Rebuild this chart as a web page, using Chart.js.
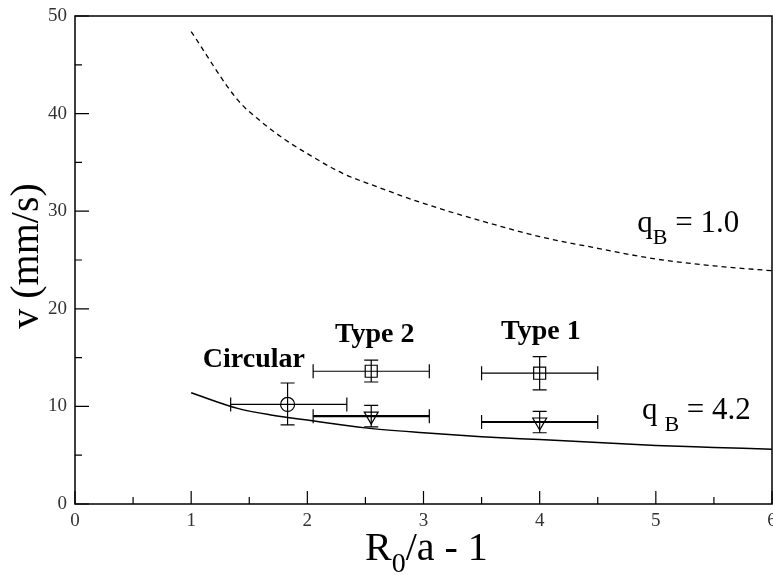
<!DOCTYPE html>
<html>
<head>
<meta charset="utf-8">
<script src="https://cdn.jsdelivr.net/npm/chart.js@4.4.1/dist/chart.umd.min.js"></script>
<style>
  html, body { margin: 0; background: #fff; overflow: hidden; }
  #wrap { width: 773px; height: 575px; }
  canvas { display: block; }
</style>
</head>
<body>
<div id="wrap"><canvas id="speedChart"></canvas></div>
<script>
// curves
const curveX1 = [1.0, 1.4, 1.6, 1.8, 2.0, 2.3, 2.6, 3.0, 3.5, 4.0, 4.5, 5.0, 5.5, 6.0];
const curveY1 = [48.4, 41.4, 39.2, 37.4, 35.9, 33.9, 32.5, 30.8, 29.0, 27.4, 26.2, 25.1, 24.4, 23.9];
const curveX4 = [1.0, 1.4, 1.7, 2.0, 2.5, 3.0, 3.5, 4.0, 4.5, 5.0, 5.5, 6.0];
const curveY4 = [11.4, 9.8, 9.1, 8.6, 7.8, 7.3, 6.9, 6.6, 6.3, 6.0, 5.8, 5.6];

// measured points: [x, y, xLow, xHigh, yLow, yHigh]
const circularPts = [[1.83, 10.2, 1.34, 2.34, 8.1, 12.4]];
const squarePts = [[2.55, 13.6, 2.05, 3.05, 12.5, 14.75], [4.0, 13.4, 3.5, 4.5, 11.7, 15.1]];
const trianglePts = [[2.55, 9.0, 2.05, 3.05, 7.9, 10.1], [4.0, 8.4, 3.5, 4.5, 7.3, 9.5]];

const xTicks = [0, 1, 2, 3, 4, 5, 6];
const yTicks = [0, 10, 20, 30, 40, 50];

const serif = '"Liberation Serif", "DejaVu Serif", serif';

function toXY(xs, ys) {
    return xs.map((x, i) => ({ x: x, y: ys[i] }));
}
function toPts(rows) {
    return rows.map(r => ({ x: r[0], y: r[1], xl: r[2], xh: r[3], yl: r[4], yh: r[5] }));
}

const errorBars = {
    id: 'errorBars',
    afterDatasetsDraw(chart) {
        const ctx = chart.ctx;
        const xs = chart.scales.x, ys = chart.scales.y;
        chart.data.datasets.forEach(ds => {
            if (!ds.errBars) return;
            ctx.save();
            ctx.strokeStyle = '#000';
            ds.data.forEach(p => {
                const px = xs.getPixelForValue(p.x), py = ys.getPixelForValue(p.y);
                const x1 = xs.getPixelForValue(p.xl), x2 = xs.getPixelForValue(p.xh);
                const y1 = ys.getPixelForValue(p.yl), y2 = ys.getPixelForValue(p.yh);
                ctx.lineWidth = ds.hBarWidth;
                ctx.beginPath();
                ctx.moveTo(x1, py); ctx.lineTo(x2, py);
                ctx.stroke();
                ctx.lineWidth = 1.2;
                ctx.beginPath();
                ctx.moveTo(x1, py - 7); ctx.lineTo(x1, py + 7);
                ctx.moveTo(x2, py - 7); ctx.lineTo(x2, py + 7);
                ctx.moveTo(px, y1); ctx.lineTo(px, y2);
                ctx.moveTo(px - 7, y1); ctx.lineTo(px + 7, y1);
                ctx.moveTo(px - 7, y2); ctx.lineTo(px + 7, y2);
                ctx.stroke();
            });
            ctx.restore();
        });
    }
};

// frame, inward ticks, axis titles and notes
const frameAndText = {
    id: 'frameAndText',
    afterDraw(chart) {
        const ctx = chart.ctx;
        const a = chart.chartArea;
        const xs = chart.scales.x, ys = chart.scales.y;
        ctx.save();
        ctx.strokeStyle = '#000';
        ctx.lineWidth = 1.5;
        ctx.strokeRect(a.left, a.top, a.right - a.left, a.bottom - a.top);

        ctx.lineWidth = 1.2;
        ctx.beginPath();
        for (let v = 0; v <= 6; v += 0.5) {
            const px = xs.getPixelForValue(v);
            const len = Number.isInteger(v) ? 13 : 7;
            ctx.moveTo(px, a.bottom); ctx.lineTo(px, a.bottom - len);
        }
        for (let v = 0; v <= 50; v += 5) {
            const py = ys.getPixelForValue(v);
            const len = v % 10 === 0 ? 14 : 7;
            ctx.moveTo(a.left, py); ctx.lineTo(a.left + len, py);
        }
        ctx.stroke();

        ctx.fillStyle = '#000';
        // y title
        ctx.save();
        ctx.translate(27, 256);
        ctx.rotate(-Math.PI / 2);
        ctx.font = '40px ' + serif;
        ctx.textAlign = 'center';
        ctx.textBaseline = 'middle';
        ctx.fillText('v (mm/s)', 0, 0);
        ctx.restore();

        // x title with subscript
        ctx.textBaseline = 'alphabetic';
        ctx.textAlign = 'left';
        let x = 365;
        ctx.font = '40px ' + serif;
        ctx.fillText('R', x, 560);
        x += ctx.measureText('R').width;
        ctx.font = '28px ' + serif;
        ctx.fillText('0', x, 572);
        x += ctx.measureText('0').width;
        ctx.font = '40px ' + serif;
        ctx.fillText('/a - 1', x, 560);

        // curve notes
        function qLabel(px, py, gap, value) {
            let cx = px;
            ctx.font = '31px ' + serif;
            ctx.fillText('q', cx, py);
            cx += ctx.measureText('q').width + gap;
            ctx.font = '22px ' + serif;
            ctx.fillText('B', cx, py + 12);
            cx += ctx.measureText('B').width;
            ctx.font = '31px ' + serif;
            ctx.fillText(' = ' + value, cx, py);
        }
        qLabel(xs.getPixelForValue(4.84), ys.getPixelForValue(27.9), 0, '1.0');
        qLabel(xs.getPixelForValue(4.88), ys.getPixelForValue(8.7), 7, '4.2');

        ctx.font = 'bold 28px ' + serif;
        ctx.textAlign = 'center';
        ctx.fillText('Circular', xs.getPixelForValue(1.54), ys.getPixelForValue(14.0));
        ctx.fillText('Type 2', xs.getPixelForValue(2.58), ys.getPixelForValue(16.6));
        ctx.fillText('Type 1', xs.getPixelForValue(4.01), ys.getPixelForValue(16.9));
        ctx.restore();
    }
};

const ctx = document.getElementById('speedChart').getContext('2d');

const speedChart = new Chart(ctx, {
    type: 'scatter',
    data: {
        datasets: [
            {
                label: 'qB = 1.0',
                data: toXY(curveX1, curveY1),
                showLine: true,
                borderColor: '#000',
                borderWidth: 1.3,
                borderDash: [5, 4],
                pointRadius: 0,
                cubicInterpolationMode: 'monotone'
            },
            {
                label: 'qB = 4.2',
                data: toXY(curveX4, curveY4),
                showLine: true,
                borderColor: '#000',
                borderWidth: 1.5,
                pointRadius: 0,
                cubicInterpolationMode: 'monotone'
            },
            {
                label: 'Circular',
                data: toPts(circularPts),
                pointStyle: 'circle',
                pointRadius: 7,
                borderColor: '#000',
                borderWidth: 1.2,
                backgroundColor: 'rgba(0,0,0,0)',
                errBars: true,
                hBarWidth: 1.2
            },
            {
                label: 'Square',
                data: toPts(squarePts),
                pointStyle: 'rect',
                pointRadius: 8.5,
                borderColor: '#000',
                borderWidth: 1.2,
                backgroundColor: 'rgba(0,0,0,0)',
                errBars: true,
                hBarWidth: 1.2
            },
            {
                label: 'Triangle',
                data: toPts(trianglePts),
                pointStyle: 'triangle',
                pointRotation: 180,
                pointRadius: 8,
                borderColor: '#000',
                borderWidth: 1.2,
                backgroundColor: 'rgba(0,0,0,0)',
                errBars: true,
                hBarWidth: 2.2
            }
        ]
    },
    options: {
        responsive: true,
        maintainAspectRatio: false,
        animation: false,
        layout: { autoPadding: false, padding: { top: 16, right: 1, left: 0, bottom: 0 } },
        scales: {
            x: {
                type: 'linear',
                min: 0,
                max: 6,
                afterBuildTicks: scale => { scale.ticks = xTicks.map(v => ({ value: v })); },
                afterFit: scale => { scale.height = 71; scale.paddingLeft = 0; scale.paddingRight = 0; },
                grid: { display: false, drawTicks: false },
                border: { display: false },
                ticks: {
                    padding: 6,
                    color: '#333',
                    font: { family: serif, size: 19 },
                    maxRotation: 0
                }
            },
            y: {
                type: 'linear',
                min: 0,
                max: 50,
                afterBuildTicks: scale => { scale.ticks = yTicks.map(v => ({ value: v })); },
                afterFit: scale => { scale.width = 75; scale.paddingTop = 0; scale.paddingBottom = 0; },
                grid: { display: false, drawTicks: false },
                border: { display: false },
                ticks: {
                    padding: 8,
                    color: '#333',
                    font: { family: serif, size: 19 }
                }
            }
        },
        plugins: {
            legend: { display: false },
            tooltip: { enabled: false }
        }
    },
    plugins: [errorBars, frameAndText]
});
</script>
</body>
</html>
